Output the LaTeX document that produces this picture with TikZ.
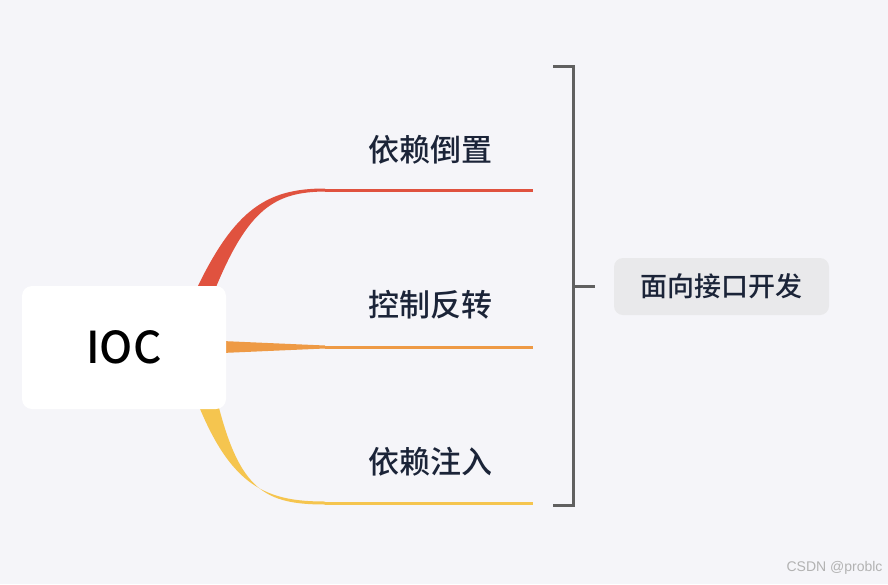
\documentclass[tikz,border=0pt]{standalone}
\usepackage{fontspec}
\newfontfamily\cjk{Noto Sans CJK SC Medium}
\definecolor{bg}{HTML}{F5F5F9}
\definecolor{txt}{HTML}{1B2438}
\definecolor{cred}{HTML}{E0523F}
\definecolor{corg}{HTML}{EE9A45}
\definecolor{cyel}{HTML}{F5C54F}
\definecolor{brk}{HTML}{606060}
\definecolor{boxg}{HTML}{E9E9EB}
\begin{document}
\begin{tikzpicture}[x=1pt,y=-1pt,
  lab/.style={font=\cjk\fontsize{31}{31}\selectfont, text=txt},
  bline/.style={line width=3pt}]
\fill[bg] (0,0) rectangle (888,584);
\useasboundingbox (0,0) rectangle (888,584);
% branches
\fill[cred] (196,290) .. controls (235,208) and (268,188.5) .. (325,188.5) -- (325,191.5) .. controls (275,192) and (248,208) .. (214,292) -- cycle;
\fill[corg] (222,341) -- (325,345.5) -- (325,348.5) -- (222,353) -- cycle;
\fill[cyel] (198,404) .. controls (232,488) and (268,501.5) .. (325,501.5) -- (325,504.5) .. controls (265,504.5) and (240,490) .. (218,404) -- cycle;
\coordinate (r1) at (325,190); \coordinate (r1e) at (533,190);
\coordinate (r2) at (325,347); \coordinate (r2e) at (533,347);
\coordinate (r3) at (325,503); \coordinate (r3e) at (533,503);
\draw[bline,cred] (r1) -- (r1e);
\draw[bline,corg] (r2) -- (r2e);
\draw[bline,cyel] (r3) -- (r3e);
% root
\node[fill=white, rounded corners=10pt, minimum width=204pt, minimum height=123pt, font=\cjk\fontsize{44}{44}\selectfont, text=black] (root) at (124,347.5) {IOC};
% labels
\node[lab] (l1) at (430,150) {依赖倒置};
\node[lab] (l2) at (430,305) {控制反转};
\node[lab] (l3) at (430,462) {依赖注入};
% bracket
\coordinate (bt) at (553,66); \coordinate (bb) at (553,505);
\coordinate (bm) at (573,286); \coordinate (bmr) at (595,286);
\draw[brk, line width=3pt] (bt) -- (573,66) -- (573,505) -- (bb);
\draw[brk, line width=3pt] (bm) -- (bmr);
\node[fill=boxg, rounded corners=9pt, minimum width=215pt, minimum height=57pt, font=\cjk\fontsize{27}{27}\selectfont, text=txt] (sum) at (721.5,286.5) {面向接口开发};
\node[font=\fontspec{Liberation Sans}\fontsize{14}{14}\selectfont, text=gray!60, anchor=east] (wm) at (886,568) {CSDN @problc};
\end{tikzpicture}
\end{document}
